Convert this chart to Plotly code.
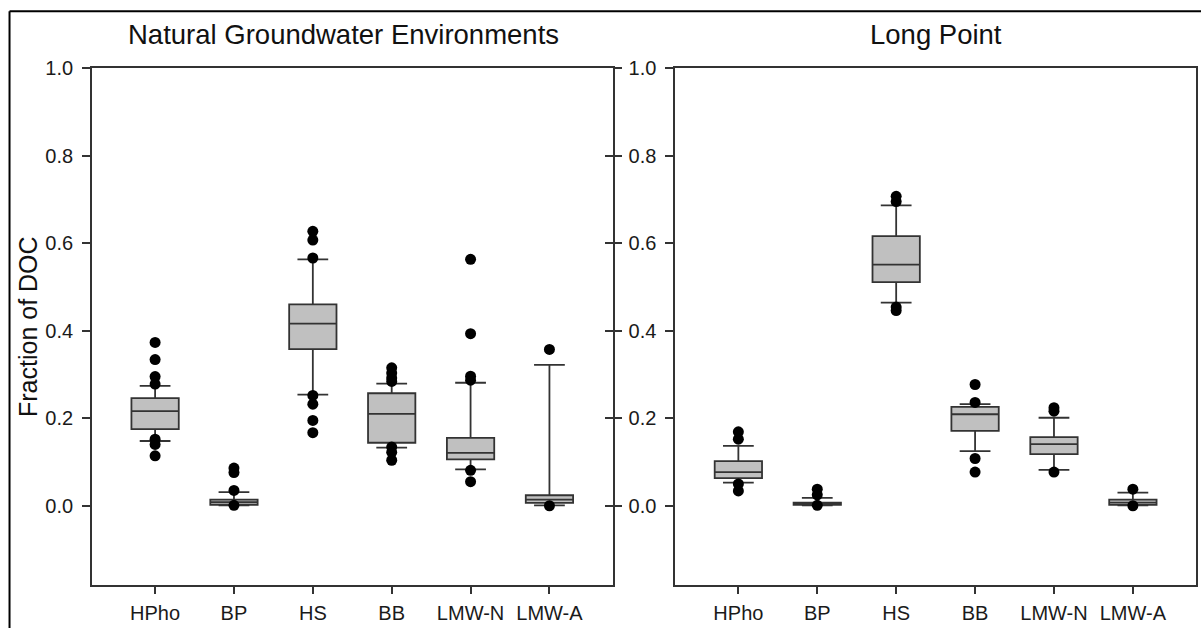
import plotly.graph_objects as go

categories = ["HPho", "BP", "HS", "BB", "LMW-N", "LMW-A"]

# Natural groundwater environments: box statistics
nat_lower = [0.148, 0.001, 0.254, 0.133, 0.083, 0.001]
nat_q1 = [0.175, 0.002, 0.358, 0.144, 0.106, 0.0065]
nat_median = [0.216, 0.008, 0.416, 0.210, 0.121, 0.014]
nat_q3 = [0.246, 0.014, 0.460, 0.257, 0.155, 0.024]
nat_upper = [0.274, 0.031, 0.563, 0.279, 0.281, 0.322]
nat_outliers = {
    "HPho": [0.373, 0.334, 0.295, 0.278, 0.152, 0.140, 0.114],
    "BP": [0.086, 0.076, 0.035, 0.001],
    "HS": [0.627, 0.607, 0.566, 0.252, 0.232, 0.195, 0.167],
    "BB": [0.315, 0.303, 0.292, 0.284, 0.134, 0.122, 0.104],
    "LMW-N": [0.563, 0.393, 0.296, 0.287, 0.081, 0.055],
    "LMW-A": [0.357, 0.0],
}

# Long Point: box statistics
lp_lower = [0.053, 0.001, 0.464, 0.125, 0.082, 0.001]
lp_q1 = [0.063, 0.002, 0.511, 0.171, 0.118, 0.002]
lp_median = [0.077, 0.004, 0.551, 0.209, 0.141, 0.007]
lp_q3 = [0.102, 0.007, 0.616, 0.226, 0.157, 0.014]
lp_upper = [0.137, 0.018, 0.686, 0.232, 0.201, 0.030]
lp_outliers = {
    "HPho": [0.169, 0.152, 0.050, 0.034],
    "BP": [0.038, 0.025, 0.001],
    "HS": [0.707, 0.695, 0.454, 0.446],
    "BB": [0.277, 0.236, 0.108, 0.077],
    "LMW-N": [0.224, 0.216, 0.077],
    "LMW-A": [0.038, 0.0],
}

y_ticks = [0.0, 0.2, 0.4, 0.6, 0.8, 1.0]
y_range = [-0.181, 1.0]
x_range = [-0.8, 5.8]

FONT = "Arial, Liberation Sans, sans-serif"
LINE = "#333333"
FILL = "#c0c0c0"

fig = go.Figure()


def add_panel(xa, ya, lower, q1, med, q3, upper, outliers):
    fig.add_trace(go.Box(
        x=categories, lowerfence=lower, q1=q1, median=med, q3=q3,
        upperfence=upper, boxpoints=False, width=0.6, whiskerwidth=0.65,
        fillcolor=FILL, line=dict(color=LINE, width=1.8),
        xaxis=xa, yaxis=ya, showlegend=False, hoverinfo="skip",
    ))
    xs, ys = [], []
    for cat in categories:
        for v in outliers[cat]:
            xs.append(cat)
            ys.append(v)
    fig.add_trace(go.Scatter(
        x=xs, y=ys, mode="markers",
        marker=dict(color="black", size=11, line=dict(width=0)),
        xaxis=xa, yaxis=ya, showlegend=False, hoverinfo="skip",
    ))


add_panel("x", "y", nat_lower, nat_q1, nat_median, nat_q3, nat_upper, nat_outliers)
add_panel("x2", "y2", lp_lower, lp_q1, lp_median, lp_q3, lp_upper, lp_outliers)

axis_common = dict(
    showgrid=False, zeroline=False, showline=True, linecolor=LINE,
    linewidth=1.8, ticks="outside", tickcolor=LINE, tickwidth=1.5,
    tickfont=dict(family=FONT, size=20, color="#1a1a1a"),
    automargin=False,
)

xaxis_common = dict(
    axis_common, type="category", categoryorder="array",
    categoryarray=categories, range=x_range, ticklen=7, mirror=True,
    ticklabelstandoff=2,
)
yaxis_common = dict(
    axis_common, range=y_range, tickvals=y_ticks, tickformat=".1f",
    ticklen=8, ticklabelstandoff=5,
)

fig.update_layout(
    width=1201, height=628,
    margin=dict(l=91.5, r=5, t=68, b=43),
    paper_bgcolor="white", plot_bgcolor="white",
    xaxis=dict(xaxis_common, domain=[0, 0.4715], anchor="y"),
    xaxis2=dict(xaxis_common, domain=[0.5283, 1], anchor="y2"),
    yaxis=dict(yaxis_common, anchor="x", mirror="ticks"),
    yaxis2=dict(yaxis_common, anchor="x2", mirror=True),
    # inward ticks on the right edge of the first panel
    yaxis3=dict(
        range=y_range, tickvals=y_ticks, overlaying="y", anchor="x",
        side="right", ticks="inside", ticklen=8, tickwidth=1.5,
        tickcolor=LINE, showticklabels=False, showline=False,
        showgrid=False, zeroline=False, automargin=False,
    ),
    showlegend=False,
)

# keep the overlay axis active with an invisible trace
fig.add_trace(go.Scatter(x=[categories[0]], y=[None], xaxis="x", yaxis="y3",
                         showlegend=False, hoverinfo="skip"))

fig.add_annotation(
    text="Natural Groundwater Environments", xref="paper", yref="paper",
    x=0.228, y=1.064, xanchor="center", yanchor="middle", showarrow=False,
    font=dict(family=FONT, size=27.5, color="#111111"),
)
fig.add_annotation(
    text="Long Point", xref="paper", yref="paper",
    x=0.7643, y=1.064, xanchor="center", yanchor="middle", showarrow=False,
    font=dict(family=FONT, size=27.5, color="#111111"),
)
fig.add_annotation(
    text="Fraction of DOC", xref="paper", yref="paper",
    x=-0.0584, y=0.5, xanchor="center", yanchor="middle", textangle=-90,
    showarrow=False, font=dict(family=FONT, size=25, color="#111111"),
)

# outer frame lines along the top and left edges
fig.add_shape(type="line", xref="paper", yref="paper",
              x0=-0.0747, y0=1.110, x1=1.01, y1=1.110,
              line=dict(color="black", width=2))
fig.add_shape(type="line", xref="paper", yref="paper",
              x0=-0.0747, y0=1.110, x1=-0.0747, y1=-0.09,
              line=dict(color="black", width=2))

fig.write_html("out.html")
